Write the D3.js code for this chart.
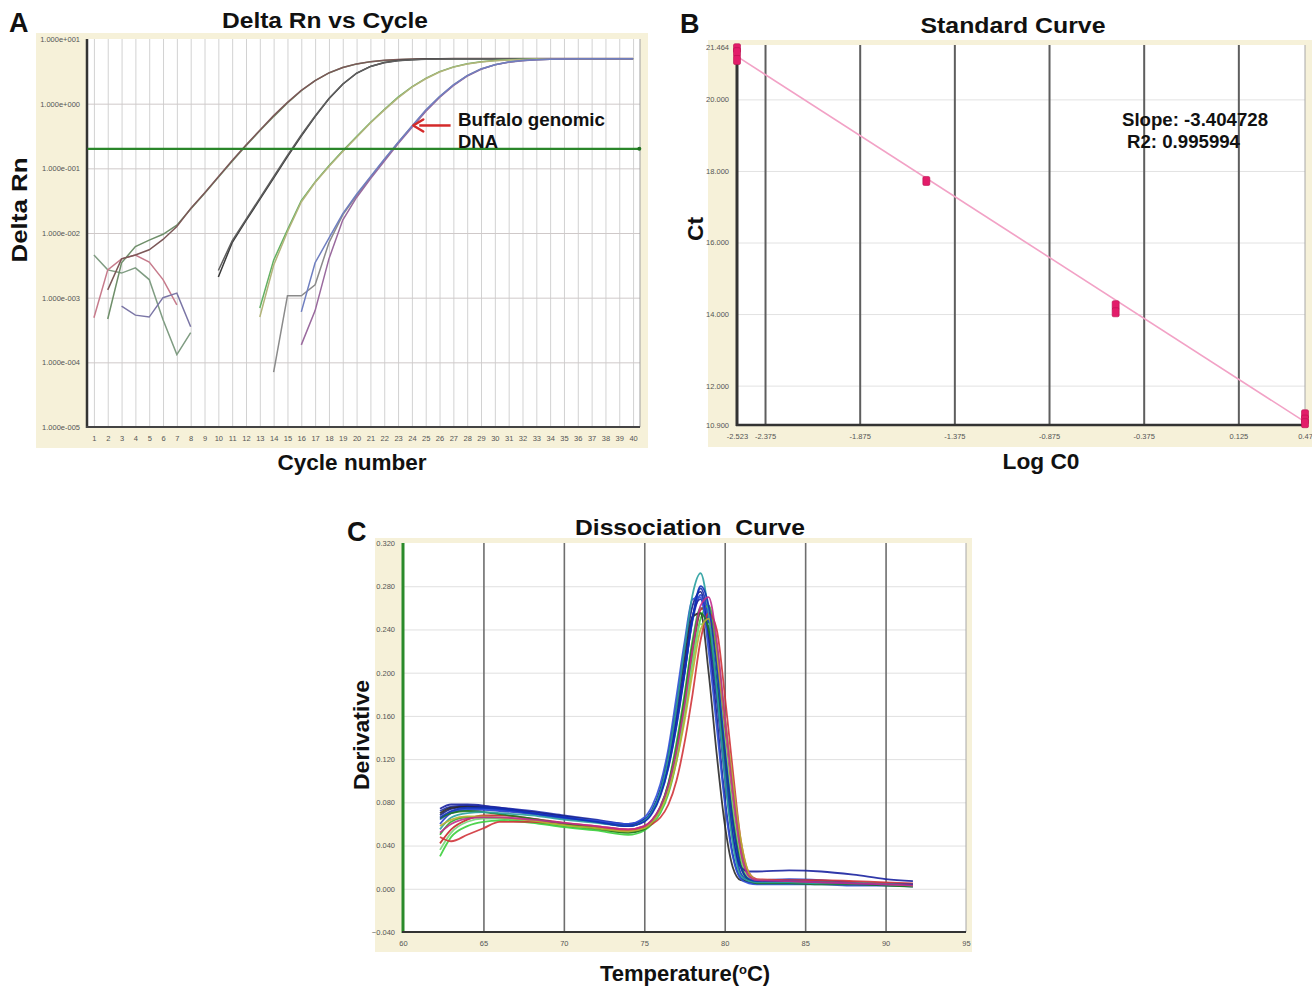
<!DOCTYPE html>
<html>
<head>
<meta charset="utf-8">
<script src="https://cdn.jsdelivr.net/npm/d3@7"></script>
<style>
  body { margin: 0; background: #fff; }
  text { font-family: Arial, "Liberation Sans", sans-serif; }
</style>
</head>
<body>
<script>
// ---------- panel A : amplification plot (log10 of Delta Rn per cycle) ----------
const cycleTicks = d3.range(1, 41)
const aYTicks = [1e-5, 1e-4, 1e-3, 1e-2, 1e-1, 1, 10]
const aYLabels = ["1.000e-005", "1.000e-004", "1.000e-003", "1.000e-002", "1.000e-001", "1.000e+000", "1.000e+001"]
const threshold = 0.2

const ampStarts = [1, 1, 3, 2, 2, 10, 10, 13, 13, 14, 16, 16]
const noiseA = [-2.34, -2.57, -2.62, -2.54, -2.72, -3.34, -3.88, -3.54]
const noiseB = [-3.31, -2.57, -2.40, -2.34, -2.45, -2.72, -3.11]
const noiseC = [-3.13, -3.27, -3.30, -3.0, -2.93, -3.45]
const grp1a = [-3.33, -2.46, -2.21, -2.11, -2.02, -1.88, -1.63, -1.39, -1.14, -0.89, -0.65, -0.42, -0.2, 0.01, 0.2, 0.355, 0.475, 0.558, 0.612, 0.648, 0.668, 0.681, 0.688, 0.692, 0.694, 0.695,
  0.696, 0.696, 0.696, 0.696, 0.696, 0.696, 0.696, 0.696, 0.696, 0.696, 0.696, 0.696, 0.696]
const grp1b = [-2.88, -2.40, -2.34, -2.26, -2.10, -1.90, -1.62, -1.38, -1.13, -0.88, -0.64, -0.41, -0.185, 0.02, 0.205, 0.358, 0.477, 0.56, 0.615, 0.65, 0.671, 0.683, 0.69, 0.694, 0.696, 0.697,
  0.698, 0.698, 0.698, 0.698, 0.698, 0.698, 0.698, 0.698, 0.698, 0.698, 0.698, 0.698, 0.698]
const grp2a = [-2.68, -2.15, -1.81, -1.48, -1.15, -0.82, -0.50, -0.20, 0.075, 0.30, 0.47, 0.576, 0.635, 0.666, 0.681, 0.689, 0.693, 0.695,
  0.696, 0.696, 0.696, 0.696, 0.696, 0.696, 0.696, 0.696, 0.696, 0.696, 0.696, 0.696, 0.696]
const grp2b = [-2.58, -2.12, -1.79, -1.46, -1.13, -0.80, -0.485, -0.19, 0.08, 0.305, 0.472, 0.575, 0.633, 0.664, 0.68, 0.688, 0.692, 0.694,
  0.695, 0.695, 0.695, 0.695, 0.695, 0.695, 0.695, 0.695, 0.695, 0.695, 0.695, 0.695, 0.695]
const grp3a = [-3.16, -2.42, -1.95, -1.50, -1.21, -0.96, -0.73, -0.51, -0.29, -0.09, 0.10, 0.26, 0.39, 0.495, 0.567, 0.616, 0.647, 0.666, 0.678, 0.685, 0.689, 0.692, 0.694, 0.695,
  0.696, 0.696, 0.696, 0.696]
const grp3b = [-3.3, -2.5, -1.98, -1.52, -1.22, -0.97, -0.74, -0.52, -0.30, -0.10, 0.09, 0.255, 0.385, 0.49, 0.565, 0.614, 0.646, 0.665, 0.677, 0.684, 0.689, 0.692, 0.694, 0.695,
  0.695, 0.695, 0.695, 0.695]
const grp4a = [-4.15, -2.97, -2.97, -2.80, -2.15, -1.72, -1.42, -1.14, -0.87, -0.60, -0.35, -0.11, 0.105, 0.288, 0.432, 0.535, 0.602, 0.643, 0.666, 0.679, 0.686, 0.69, 0.693, 0.694, 0.695, 0.695, 0.695]
const grp4b = [-3.73, -3.2, -2.4, -1.8, -1.45, -1.16, -0.89, -0.62, -0.37, -0.12, 0.095, 0.28, 0.425, 0.53, 0.6, 0.641, 0.665, 0.678, 0.686, 0.69, 0.693, 0.694, 0.695, 0.695, 0.695]
const grp4c = [-3.22, -2.46, -2.08, -1.70, -1.40, -1.13, -0.86, -0.60, -0.35, -0.10, 0.11, 0.29, 0.435, 0.537, 0.603, 0.644, 0.667, 0.68, 0.687, 0.691, 0.693, 0.694, 0.695, 0.695, 0.695]
const ampSeries = [noiseA, noiseB, noiseC, grp1a, grp1b, grp2a, grp2b, grp3a, grp3b, grp4a, grp4b, grp4c]
const ampColors = ["#7f9c82", "#c77b8c", "#7b76a6", "#6f8f6a", "#7c5858", "#3a3a3a", "#5e5e5e", "#62b062", "#b2b47a", "#8a8a8a", "#9a6a9e", "#6f7fc0"]

// ---------- panel B : standard curve ----------
const logC0 = [-2.523, -2.523, -2.523, -1.523, -0.523, -0.523, 0.477, 0.477, 0.477]
const ctValues = [21.43, 21.32, 21.1, 17.72, 14.25, 14.05, 11.2, 11.05, 10.95]
const stdSlope = -3.404728
const stdR2 = 0.995994
const stdIntercept = 12.61
const bXTicks = [-2.523, -2.375, -1.875, -1.375, -0.875, -0.375, 0.125, 0.477]
const bXLabels = ["-2.523", "-2.375", "-1.875", "-1.375", "-0.875", "-0.375", "0.125", "0.47"]
const bYTicks = [10.9, 12, 14, 16, 18, 20, 21.464]
const bYLabels = ["10.900", "12.000", "14.000", "16.000", "18.000", "20.000", "21.464"]

// ---------- panel C : dissociation curves ----------
const meltTemps = [62.3, 63, 64, 65, 66, 68, 70, 72, 74, 75, 75.5, 76, 76.5, 77, 77.5, 78, 78.5, 79, 79.5, 80, 80.5, 81, 81.5, 82, 84, 86, 88, 90, 91.7]
const melt01 = [0.05, 0.062, 0.066, 0.066, 0.065, 0.062, 0.058, 0.055, 0.052, 0.056, 0.063, 0.076, 0.098, 0.135, 0.18, 0.23, 0.26, 0.245, 0.19, 0.12, 0.06, 0.02, 0.008, 0.006, 0.006, 0.005, 0.005, 0.004, 0.003]
const melt02 = [0.03, 0.048, 0.058, 0.062, 0.063, 0.061, 0.057, 0.054, 0.05, 0.054, 0.06, 0.07, 0.088, 0.118, 0.16, 0.21, 0.25, 0.262, 0.225, 0.16, 0.095, 0.04, 0.014, 0.008, 0.007, 0.006, 0.005, 0.004, 0.003]
const melt03 = [0.036, 0.052, 0.062, 0.065, 0.065, 0.063, 0.059, 0.056, 0.053, 0.056, 0.062, 0.073, 0.092, 0.122, 0.162, 0.21, 0.245, 0.245, 0.205, 0.14, 0.075, 0.028, 0.01, 0.007, 0.007, 0.006, 0.005, 0.005, 0.004]
const melt04 = [0.065, 0.07, 0.072, 0.071, 0.069, 0.065, 0.06, 0.056, 0.052, 0.055, 0.062, 0.075, 0.097, 0.13, 0.175, 0.225, 0.255, 0.24, 0.19, 0.125, 0.065, 0.022, 0.008, 0.005, 0.005, 0.004, 0.004, 0.003, 0.002]
const melt05 = [0.042, 0.055, 0.064, 0.068, 0.068, 0.065, 0.061, 0.058, 0.055, 0.058, 0.064, 0.075, 0.094, 0.125, 0.165, 0.215, 0.258, 0.262, 0.215, 0.145, 0.078, 0.03, 0.011, 0.008, 0.008, 0.007, 0.006, 0.005, 0.004]
const melt06 = [0.048, 0.044, 0.05, 0.056, 0.062, 0.062, 0.06, 0.057, 0.054, 0.057, 0.06, 0.066, 0.078, 0.1, 0.135, 0.18, 0.23, 0.255, 0.24, 0.18, 0.11, 0.045, 0.015, 0.009, 0.008, 0.008, 0.007, 0.006, 0.005]
const melt07 = [0.058, 0.064, 0.067, 0.067, 0.066, 0.063, 0.059, 0.056, 0.053, 0.056, 0.062, 0.073, 0.09, 0.118, 0.155, 0.2, 0.24, 0.25, 0.215, 0.16, 0.1, 0.045, 0.015, 0.008, 0.007, 0.006, 0.005, 0.004, 0.003]
const melt08 = [0.052, 0.06, 0.065, 0.066, 0.066, 0.064, 0.061, 0.058, 0.055, 0.058, 0.064, 0.076, 0.096, 0.128, 0.17, 0.222, 0.262, 0.27, 0.23, 0.16, 0.09, 0.035, 0.012, 0.008, 0.007, 0.006, 0.005, 0.004, 0.003]
const melt09 = [0.07, 0.075, 0.076, 0.075, 0.074, 0.071, 0.067, 0.063, 0.059, 0.063, 0.072, 0.09, 0.122, 0.165, 0.212, 0.252, 0.255, 0.2, 0.125, 0.06, 0.02, 0.008, 0.007, 0.007, 0.007, 0.006, 0.005, 0.004, 0.003]
const melt10 = [0.055, 0.066, 0.07, 0.071, 0.07, 0.068, 0.064, 0.061, 0.058, 0.063, 0.072, 0.09, 0.122, 0.168, 0.222, 0.272, 0.292, 0.255, 0.185, 0.105, 0.042, 0.012, 0.007, 0.006, 0.006, 0.005, 0.005, 0.004, 0.003]
const melt11 = [0.072, 0.076, 0.077, 0.076, 0.075, 0.072, 0.068, 0.064, 0.06, 0.064, 0.072, 0.088, 0.115, 0.155, 0.2, 0.25, 0.278, 0.25, 0.19, 0.115, 0.05, 0.014, 0.007, 0.006, 0.006, 0.005, 0.004, 0.004, 0.003]
const melt12 = [0.068, 0.074, 0.076, 0.075, 0.073, 0.07, 0.066, 0.062, 0.058, 0.063, 0.073, 0.092, 0.125, 0.17, 0.22, 0.262, 0.275, 0.23, 0.16, 0.085, 0.032, 0.01, 0.006, 0.005, 0.005, 0.005, 0.004, 0.004, 0.003]
const melt13 = [0.06, 0.07, 0.073, 0.073, 0.072, 0.069, 0.065, 0.062, 0.059, 0.063, 0.071, 0.087, 0.113, 0.152, 0.2, 0.248, 0.272, 0.245, 0.185, 0.11, 0.048, 0.014, 0.008, 0.008, 0.009, 0.008, 0.006, 0.005, 0.004]
const melt14 = [0.074, 0.078, 0.078, 0.077, 0.075, 0.071, 0.067, 0.063, 0.06, 0.064, 0.073, 0.09, 0.118, 0.158, 0.205, 0.252, 0.268, 0.235, 0.175, 0.105, 0.048, 0.02, 0.016, 0.016, 0.017, 0.016, 0.013, 0.009, 0.007]
const melt15 = [0.064, 0.071, 0.074, 0.074, 0.073, 0.07, 0.066, 0.063, 0.06, 0.066, 0.077, 0.097, 0.13, 0.178, 0.228, 0.268, 0.27, 0.22, 0.15, 0.08, 0.03, 0.009, 0.005, 0.004, 0.004, 0.004, 0.003, 0.003, 0.002]
const melt16 = [0.066, 0.072, 0.075, 0.075, 0.074, 0.07, 0.066, 0.062, 0.058, 0.062, 0.07, 0.086, 0.112, 0.15, 0.198, 0.25, 0.28, 0.262, 0.205, 0.13, 0.062, 0.02, 0.009, 0.007, 0.007, 0.006, 0.005, 0.004, 0.004]
const meltCurves = [melt01, melt11, melt05, melt12, melt02, melt13, melt09, melt03, melt14, melt06, melt15, melt04, melt10, melt07, melt16, melt08]
const meltColors = ["#2fb02f", "#1f2fb0", "#c62828", "#141e8c", "#3ccf3c", "#2840c8", "#2a2a2a", "#7ad67a", "#1a22a0", "#d0343a", "#3050d8", "#1d7a1d", "#2aa0a0", "#b8b030", "#1030b8", "#c02c8c"]
const cXTicks = [60, 65, 70, 75, 80, 85, 90, 95]
const cYTicks = [-0.04, 0, 0.04, 0.08, 0.12, 0.16, 0.2, 0.24, 0.28, 0.32]

// ---------- drawing ----------
const svg = d3.select("body").append("svg").attr("width", 1312).attr("height", 986)
const beige = "#f6f1d9"

const gridAxis = (g, axis, color, width) => {
  g.call(axis)
  g.select(".domain").remove()
  g.selectAll("text").remove()
  g.selectAll("line").attr("stroke", color).attr("stroke-width", width)
}
const labelAxis = (g, axis) => {
  g.call(axis)
  g.select(".domain").remove()
  g.selectAll("text").attr("font-size", 7.5).attr("fill", "#555").attr("font-family", "Arial, 'Liberation Sans', sans-serif")
}
const bold = (x, y, txt, size, anchor, rotate, len) => {
  const t = svg.append("text")
      .attr("x", x).attr("y", y)
      .attr("font-size", size)
      .attr("font-weight", "bold")
      .attr("fill", "#111")
      .attr("text-anchor", anchor || "middle")
      .text(txt)
  if (len) t.attr("textLength", len).attr("lengthAdjust", "spacingAndGlyphs")
  if (rotate) t.attr("transform", `rotate(-90,${x},${y})`)
  return t
}

// ===== Panel A =====
const xA = d3.scaleLinear().domain([0.5, 40.5]).range([87, 640])
const yA = d3.scaleLog().domain([1e-5, 10]).range([427, 39])
const aw = xA.range()[1] - xA.range()[0], ah = yA.range()[0] - yA.range()[1]

svg.append("rect").attr("x", 36).attr("y", 33).attr("width", 612).attr("height", 415).attr("fill", beige)
svg.append("rect").attr("x", xA.range()[0]).attr("y", yA.range()[1]).attr("width", aw).attr("height", ah).attr("fill", "#fff")

svg.append("g").attr("transform", `translate(0,${yA.range()[0]})`)
    .call(g => gridAxis(g, d3.axisBottom(xA).tickValues(cycleTicks).tickSize(-ah), "#d2d2d2", 1))
svg.append("g").attr("transform", `translate(${xA.range()[0]},0)`)
    .call(g => gridAxis(g, d3.axisLeft(yA).tickValues(aYTicks.slice(1, -1)).tickSize(-aw), "#cfc9c9", 1))

svg.append("g").attr("transform", `translate(${xA.range()[0]},0)`)
    .call(g => labelAxis(g, d3.axisLeft(yA).tickValues(aYTicks).tickFormat((d, i) => aYLabels[i]).tickSize(0).tickPadding(7)))
svg.append("g").attr("transform", `translate(0,${yA.range()[0]})`)
    .call(g => labelAxis(g, d3.axisBottom(xA).tickValues(cycleTicks).tickFormat(d => d).tickSize(0).tickPadding(9)))

svg.append("line").attr("x1", 640).attr("x2", 640).attr("y1", 39).attr("y2", 427).attr("stroke", "#a0a0a0").attr("stroke-width", 1)
svg.append("line").attr("x1", 87).attr("x2", 87).attr("y1", 39).attr("y2", 428).attr("stroke", "#333").attr("stroke-width", 2.5)
svg.append("line").attr("x1", 86).attr("x2", 640).attr("y1", 427).attr("y2", 427).attr("stroke", "#444").attr("stroke-width", 2)

const ampLine = d3.line().x(d => xA(d.c)).y(d => yA(d.v))
ampSeries.forEach((s, i) => {
  const pts = s.map((lg, j) => ({ c: ampStarts[i] + j, v: Math.pow(10, lg) }))
  svg.append("path")
      .attr("d", ampLine(pts))
      .attr("fill", "none")
      .attr("stroke", ampColors[i])
      .attr("stroke-width", 1.5)
})

svg.append("line")
    .attr("x1", xA(0.55)).attr("x2", xA(40.45))
    .attr("y1", yA(threshold)).attr("y2", yA(threshold))
    .attr("stroke", "#2a862a").attr("stroke-width", 2.4)
svg.append("circle").attr("cx", xA(40.45)).attr("cy", yA(threshold)).attr("r", 2).attr("fill", "#1f6f1f")

// arrow annotation
const tipX = xA(24.1), tipY = yA(0.46)
svg.append("line").attr("x1", xA(26.8)).attr("x2", tipX + 6).attr("y1", tipY).attr("y2", tipY)
    .attr("stroke", "#d42a2a").attr("stroke-width", 2.5)
svg.append("path")
    .attr("d", `M${tipX},${tipY} L${tipX + 10},${tipY - 6} M${tipX},${tipY} L${tipX + 10},${tipY + 6}`)
    .attr("stroke", "#d42a2a").attr("stroke-width", 2.5).attr("fill", "none").attr("stroke-linecap", "round")
bold(458, 126, "Buffalo genomic", 18.5, "start", false, 147)
bold(458, 148, "DNA", 18.5, "start", false, 40)

bold(9, 32, "A", 27, "start")
bold(325, 28, "Delta Rn vs Cycle", 22.5, "middle", false, 206)
bold(352, 470, "Cycle number", 22, "middle", false, 149)
bold(27, 210, "Delta Rn", 22, "middle", true, 105)

// ===== Panel B =====
const xB = d3.scaleLinear().domain([-2.523, 0.477]).range([737, 1305])
const yB = d3.scaleLinear().domain([10.9, 21.464]).range([425, 47])
const bw = xB.range()[1] - xB.range()[0], bh = yB.range()[0] - 45

svg.append("rect").attr("x", 708).attr("y", 40).attr("width", 604).attr("height", 407).attr("fill", beige)
svg.append("rect").attr("x", xB.range()[0]).attr("y", 45).attr("width", bw).attr("height", bh).attr("fill", "#fff")

svg.append("g").attr("transform", `translate(${xB.range()[0]},0)`)
    .call(g => gridAxis(g, d3.axisLeft(yB).tickValues(bYTicks.slice(1, -1)).tickSize(-bw), "#e2e2e2", 1))
svg.append("g").attr("transform", `translate(0,${yB.range()[0]})`)
    .call(g => gridAxis(g, d3.axisBottom(xB).tickValues(bXTicks.slice(1, -1)).tickSize(-bh), "#5e5e5e", 2))

svg.append("g").attr("transform", `translate(${xB.range()[0]},0)`)
    .call(g => labelAxis(g, d3.axisLeft(yB).tickValues(bYTicks).tickFormat((d, i) => bYLabels[i]).tickSize(0).tickPadding(8)))
svg.append("g").attr("transform", `translate(0,${yB.range()[0]})`)
    .call(g => labelAxis(g, d3.axisBottom(xB).tickValues(bXTicks).tickFormat((d, i) => bXLabels[i]).tickSize(0).tickPadding(9)))

svg.append("line").attr("x1", 1305).attr("x2", 1305).attr("y1", 45).attr("y2", 425).attr("stroke", "#a8a8a8").attr("stroke-width", 1)
svg.append("line").attr("x1", 737).attr("x2", 737).attr("y1", 45).attr("y2", 426).attr("stroke", "#333").attr("stroke-width", 3)
svg.append("line").attr("x1", 736).attr("x2", 1305).attr("y1", 425).attr("y2", 425).attr("stroke", "#333").attr("stroke-width", 2.5)

svg.append("line")
    .attr("x1", xB(-2.523)).attr("y1", yB(stdSlope * -2.523 + stdIntercept))
    .attr("x2", xB(0.477)).attr("y2", yB(stdSlope * 0.477 + stdIntercept))
    .attr("stroke", "#f2a2c6").attr("stroke-width", 1.6)

svg.append("g").selectAll("rect")
    .data(logC0.map((x, i) => ({ x, ct: ctValues[i] })))
    .join("rect")
    .attr("x", d => xB(d.x) - 3.5)
    .attr("y", d => yB(d.ct) - 4.5)
    .attr("width", 7).attr("height", 9)
    .attr("rx", 1.5)
    .attr("fill", "#e31c6a")
    .attr("stroke", "#b8104f").attr("stroke-width", 0.6)

bold(1122, 126, `Slope: ${stdSlope}`, 18.5, "start", false, 146)
bold(1127, 148, `R2: ${stdR2}`, 18.5, "start", false, 113)

bold(680, 33, "B", 27, "start")
bold(1013, 33, "Standard Curve", 22.5, "middle", false, 185)
bold(1041, 469, "Log C0", 22, "middle", false, 77)
bold(703, 229, "Ct", 22, "middle", true, 24)

// ===== Panel C =====
const xC = d3.scaleLinear().domain([60, 95]).range([403, 966])
const yC = d3.scaleLinear().domain([-0.04, 0.32]).range([932, 543])
const cw = xC.range()[1] - xC.range()[0], ch = yC.range()[0] - yC.range()[1]

svg.append("rect").attr("x", 375).attr("y", 538).attr("width", 597).attr("height", 414).attr("fill", beige)
svg.append("rect").attr("x", xC.range()[0]).attr("y", yC.range()[1]).attr("width", cw).attr("height", ch).attr("fill", "#fff")

svg.append("g").attr("transform", `translate(${xC.range()[0]},0)`)
    .call(g => gridAxis(g, d3.axisLeft(yC).tickValues(cYTicks.slice(1, -1)).tickSize(-cw), "#e0e0e0", 1))
svg.append("g").attr("transform", `translate(0,${yC.range()[0]})`)
    .call(g => gridAxis(g, d3.axisBottom(xC).tickValues(cXTicks.slice(1, -1)).tickSize(-ch), "#6e6e6e", 1.6))

svg.append("g").attr("transform", `translate(${xC.range()[0]},0)`)
    .call(g => labelAxis(g, d3.axisLeft(yC).tickValues(cYTicks).tickFormat(d3.format(".3f")).tickSize(0).tickPadding(8)))
svg.append("g").attr("transform", `translate(0,${yC.range()[0]})`)
    .call(g => labelAxis(g, d3.axisBottom(xC).tickValues(cXTicks).tickFormat(d => d).tickSize(0).tickPadding(9)))

svg.append("line").attr("x1", 966).attr("x2", 966).attr("y1", 543).attr("y2", 932).attr("stroke", "#a8a8a8").attr("stroke-width", 1)

const meltLine = d3.line().curve(d3.curveMonotoneX).x(d => xC(d.t)).y(d => yC(d.v))
meltCurves.forEach((s, i) => {
  svg.append("path")
      .attr("d", meltLine(s.map((v, j) => ({ t: meltTemps[j], v }))))
      .attr("fill", "none")
      .attr("stroke", meltColors[i])
      .attr("stroke-width", 1.8)
      .attr("stroke-opacity", 0.9)
})

svg.append("line").attr("x1", 403).attr("x2", 403).attr("y1", 543).attr("y2", 933).attr("stroke", "#2a8a2a").attr("stroke-width", 3)
svg.append("line").attr("x1", 402).attr("x2", 966).attr("y1", 932).attr("y2", 932).attr("stroke", "#333").attr("stroke-width", 2)

bold(347, 541, "C", 27, "start")
bold(690, 535, "Dissociation  Curve", 22.5, "middle", false, 230).style("white-space", "pre")
bold(369, 735, "Derivative", 22, "middle", true, 110)
const tl = bold(600, 981, "Temperature(", 22, "start")
tl.append("tspan").attr("baseline-shift", "super").attr("font-size", 13).text("o")
tl.append("tspan").text("C)")
</script>
</body>
</html>
